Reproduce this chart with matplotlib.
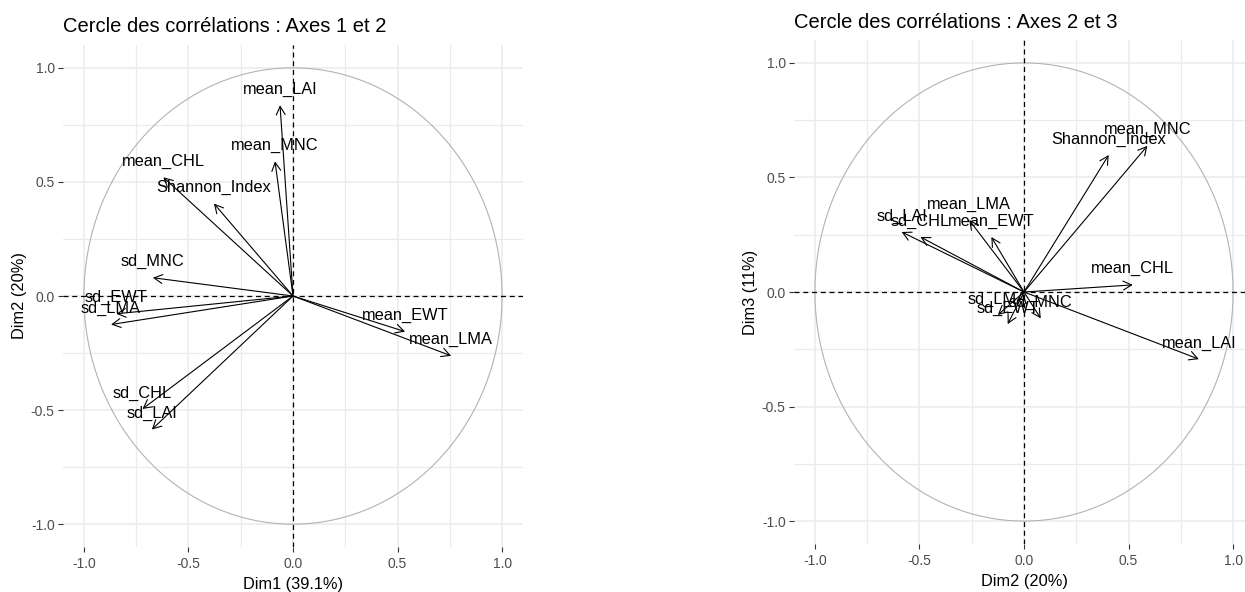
import numpy as np
import matplotlib
matplotlib.use('Agg')
import matplotlib.pyplot as plt

plt.rcParams['font.family'] = ['Liberation Sans', 'DejaVu Sans']
plt.rcParams['axes.unicode_minus'] = False

# Coordonnées des variables sur les trois premiers axes de l'ACP
variables = ['mean_LAI', 'mean_MNC', 'mean_CHL', 'Shannon_Index', 'sd_MNC',
             'sd_EWT', 'sd_LMA', 'sd_CHL', 'sd_LAI', 'mean_EWT', 'mean_LMA']
dim1 = [-0.062, -0.086, -0.620, -0.378, -0.670, -0.845, -0.870, -0.720, -0.675, 0.536, 0.756]
dim2 = [0.836, 0.590, 0.520, 0.405, 0.080, -0.078, -0.125, -0.495, -0.585, -0.156, -0.262]
dim3 = [-0.293, 0.638, 0.031, 0.598, -0.115, -0.140, -0.100, 0.240, 0.262, 0.240, 0.314]

inertie = {'Dim1': '39.1%', 'Dim2': '20%', 'Dim3': '11%'}
ticks = [-1.0, -0.5, 0.0, 0.5, 1.0]
minor_ticks = [-0.75, -0.25, 0.25, 0.75]

W, H = 1245, 592
fig = plt.figure(figsize=(W / 100, H / 100), dpi=100)
ax1 = fig.add_axes([63 / W, 1 - 547 / H, 460 / W, 502 / H])
ax2 = fig.add_axes([794 / W, 1 - 544 / H, 460 / W, 504 / H])


def cercle(ax, xs, ys, xname, yname, titre):
    ax.set_xlim(-1.1, 1.1)
    ax.set_ylim(-1.1, 1.1)
    for s in ax.spines.values():
        s.set_visible(False)

    # grille façon theme_minimal
    for v in ticks:
        ax.axvline(v, color='#EBEBEB', lw=1.1, zorder=0)
        ax.axhline(v, color='#EBEBEB', lw=1.1, zorder=0)
    for v in minor_ticks:
        ax.axvline(v, color='#EBEBEB', lw=0.9, zorder=0)
        ax.axhline(v, color='#EBEBEB', lw=0.9, zorder=0)

    t = np.linspace(0, 2 * np.pi, 400)
    ax.plot(np.cos(t), np.sin(t), color='#B3B3B3', lw=0.8, zorder=1)
    ax.axhline(0, color='black', lw=0.9, ls=(0, (4, 3)), zorder=2)
    ax.axvline(0, color='black', lw=0.9, ls=(0, (4, 3)), zorder=2)

    for nom, x, y in zip(variables, xs, ys):
        ax.annotate('', xy=(x, y), xytext=(0, 0),
                    arrowprops=dict(arrowstyle='->,head_length=0.6,head_width=0.32',
                                    color='black', lw=0.8, shrinkA=0, shrinkB=0),
                    zorder=3)
        ax.annotate(nom, (x, y), xytext=(0, 11.5), textcoords='offset points',
                    ha='center', va='center', fontsize=11.8, color='black', zorder=4)

    ax.set_xticks(ticks)
    ax.set_yticks(ticks)
    ax.set_xticklabels([f'{v:.1f}' for v in ticks])
    ax.set_yticklabels([f'{v:.1f}' for v in ticks])
    ax.tick_params(axis='both', length=3.5, width=0.8, color='#333333',
                   labelcolor='#4D4D4D', labelsize=10)
    ax.tick_params(axis='x', pad=4)
    ax.tick_params(axis='y', pad=2.5)
    ax.set_xlabel(f'{xname} ({inertie[xname]})', fontsize=11.8, labelpad=4)
    ax.set_ylabel(f'{yname} ({inertie[yname]})', fontsize=11.8, labelpad=3)
    ax.set_title(titre, loc='left', fontsize=14.5, pad=9)


cercle(ax1, dim1, dim2, 'Dim1', 'Dim2', 'Cercle des corrélations : Axes 1 et 2')
cercle(ax2, dim2, dim3, 'Dim2', 'Dim3', 'Cercle des corrélations : Axes 2 et 3')

fig.savefig('out.png', dpi=100)
